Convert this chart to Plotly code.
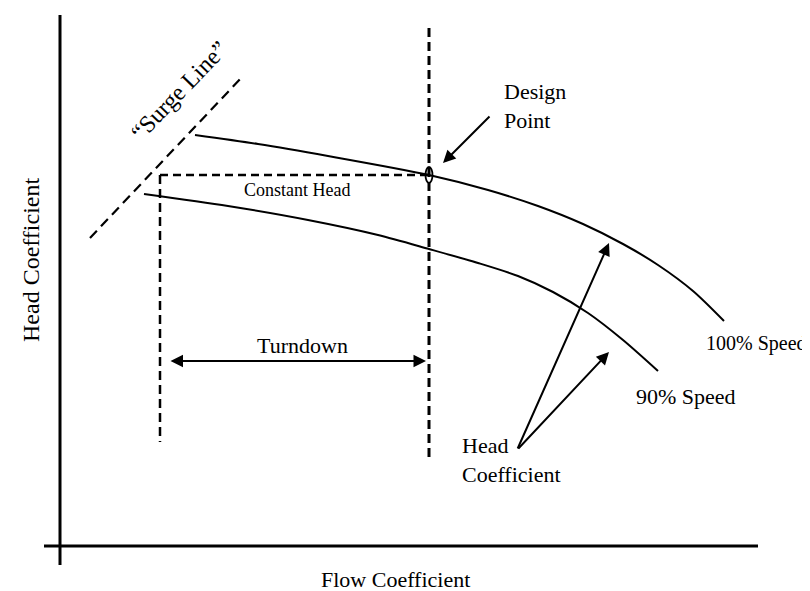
import plotly.graph_objects as go

# ---- data (arbitrary units: flow coefficient on x, head coefficient on y) ----
flow_100 = [135, 198, 268, 369, 428, 478, 523, 563, 598, 633, 664]
head_100 = [411, 402, 390, 371, 356, 340, 322, 302, 281, 255, 225]

flow_90 = [84, 168, 248, 318, 369, 418, 458, 493, 528, 563, 598]
head_90 = [352, 340, 326, 311, 297, 283, 270, 254, 233, 206, 175]

surge_flow = [30, 183]
surge_head = [308, 470]

design_flow = 369
design_head = 371
turndown_flow = 100          # flow at which constant head meets surge
turndown_bottom = 104
design_line_top = 518
design_line_bottom = 87

axis_x_extent = [-16, 698]
axis_y_extent = [-19, 531]

FONT = "Liberation Serif, Times New Roman, serif"

fig = go.Figure()

# axes
fig.add_trace(go.Scatter(x=axis_x_extent, y=[0, 0], mode="lines",
                         line=dict(color="black", width=3), hoverinfo="skip"))
fig.add_trace(go.Scatter(x=[0, 0], y=axis_y_extent, mode="lines",
                         line=dict(color="black", width=3), hoverinfo="skip"))

# speed curves
fig.add_trace(go.Scatter(x=flow_100, y=head_100, mode="lines",
                         line=dict(color="black", width=2, shape="spline", smoothing=0.8)))
fig.add_trace(go.Scatter(x=flow_90, y=head_90, mode="lines",
                         line=dict(color="black", width=2, shape="spline", smoothing=0.8)))

# surge line
fig.add_trace(go.Scatter(x=surge_flow, y=surge_head, mode="lines",
                         line=dict(color="black", width=2.2, dash="10px,6px")))

# constant head line
fig.add_trace(go.Scatter(x=[turndown_flow, design_flow], y=[design_head, design_head], mode="lines",
                         line=dict(color="black", width=2.5, dash="8px,5px")))
# left vertical dashed
fig.add_trace(go.Scatter(x=[turndown_flow, turndown_flow], y=[design_head, turndown_bottom], mode="lines",
                         line=dict(color="black", width=2.5, dash="9px,5px")))
# design vertical dashed
fig.add_trace(go.Scatter(x=[design_flow, design_flow], y=[design_line_top, design_line_bottom], mode="lines",
                         line=dict(color="black", width=3, dash="9px,5px")))

# design point ellipse
fig.add_shape(type="circle", xref="x", yref="y",
              x0=design_flow - 3.5, x1=design_flow + 3.5,
              y0=design_head - 8, y1=design_head + 8,
              line=dict(color="black", width=1.8))

def arrow(x, y, ax, ay, both=False):
    d = dict(x=x, y=y, ax=ax, ay=ay, xref="x", yref="y", axref="x", ayref="y",
             text="", showarrow=True, arrowhead=2, arrowsize=1.25, arrowwidth=2,
             arrowcolor="black", standoff=0, startstandoff=0)
    if both:
        d.update(arrowside="end+start", startarrowhead=2, startarrowsize=1.25)
    fig.add_annotation(**d)

arrow(383, 383, 431, 431)                     # design point
arrow(549, 303, 457, 96)                      # head coefficient -> 100%
arrow(549, 194, 457, 96)                      # head coefficient -> 90%
arrow(366, 185, 109, 185, both=True)          # turndown

def label(text, x, y, size=22, xanchor="center", yanchor="middle", angle=0, align="left"):
    fig.add_annotation(x=x, y=y, xref="x", yref="y", text=text, showarrow=False,
                       xanchor=xanchor, yanchor=yanchor, textangle=angle, align=align,
                       borderpad=0,
                       font=dict(family=FONT, size=size, color="black"))

label("\u201cSurge Line\u201d", 119, 455, size=24, angle=-46)
label("Constant Head", 183, 356, size=18, xanchor="left")
label("Design<br>Point", 443, 440, xanchor="left")
label("Turndown", 242, 201)
label("100% Speed", 645, 203, size=20, xanchor="left")
label("90% Speed", 575, 150, xanchor="left")
label("Head<br>Coefficient", 401, 86, xanchor="left")
label("Flow Coefficient", 335, -33)
label("Head Coefficient", -29, 286, size=24, angle=-90)

fig.update_layout(
    width=810, height=591,
    margin=dict(l=0, r=0, t=0, b=0),
    paper_bgcolor="white", plot_bgcolor="white",
    showlegend=False,
    xaxis=dict(range=[-52, 758], visible=False, fixedrange=True),
    yaxis=dict(range=[-53, 538], visible=False, fixedrange=True),
)

fig.write_html("out.html")
